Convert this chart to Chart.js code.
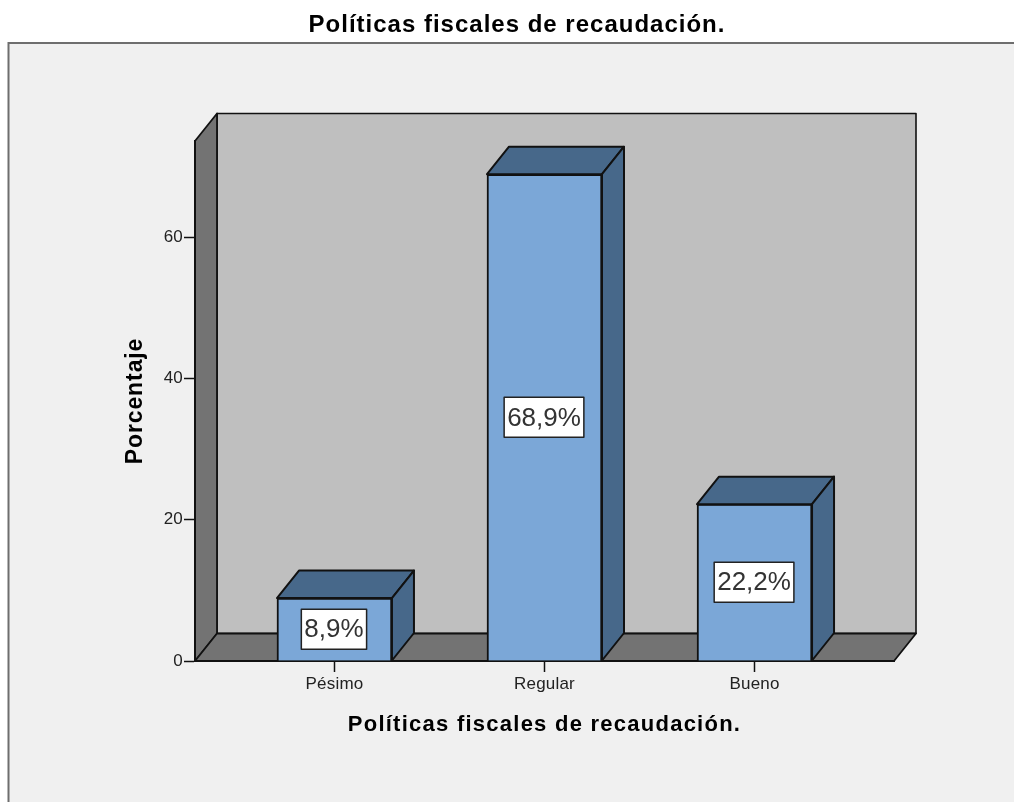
<!DOCTYPE html>
<html>
<head>
<meta charset="utf-8">
<style>html,body{margin:0;padding:0;background:#fff;overflow:hidden}canvas{display:block}</style>
<script src="https://cdn.jsdelivr.net/npm/chart.js@4/dist/chart.umd.min.js"></script>
</head>
<body>
<canvas id="c" width="1014" height="802"></canvas>
<script>
const chartTitle = 'Políticas fiscales de recaudación.';
const xAxisTitle = 'Políticas fiscales de recaudación.';
const yAxisTitle = 'Porcentaje';
const categories = ['Pésimo', 'Regular', 'Bueno'];
const positions = [0, 1, 2];
const percentages = [8.9, 68.9, 22.2];
const yMax = 73.6;

const depthX = 22, depthY = 27.5;
const sans = '"Liberation Sans", Arial, sans-serif';

function poly(ctx, pts, fill, lw) {
  ctx.beginPath();
  pts.forEach((p, i) => i ? ctx.lineTo(p[0], p[1]) : ctx.moveTo(p[0], p[1]));
  ctx.closePath();
  ctx.fillStyle = fill; ctx.fill();
  ctx.lineWidth = lw || 2; ctx.strokeStyle = '#111'; ctx.lineJoin = 'round'; ctx.stroke();
}

// The reference's text is stretched; reproduce it with canvas letter spacing.
function spaced(obj, method, px) {
  if (obj['_sp_' + method]) return;
  obj['_sp_' + method] = true;
  const orig = obj[method];
  obj[method] = function (...args) {
    const ctx = this.ctx;
    const prev = ctx.letterSpacing;
    ctx.letterSpacing = px + 'px';
    orig.apply(this, args);
    ctx.letterSpacing = prev;
  };
}

const scene = {
  id: 'scene',
  afterLayout(chart) {
    chart.titleBlock.left += 70; chart.titleBlock.right += 70;
    spaced(chart.titleBlock, 'draw', 1.0);
    spaced(chart.scales.x, 'drawTitle', 1.25);
    spaced(chart.scales.y, 'drawTitle', 0.9);
    spaced(chart.scales.x, 'drawLabels', 0.2);
    spaced(chart.scales.y, 'drawLabels', 0.2);
  },
  beforeDraw(chart) {
    const ctx = chart.ctx, a = chart.chartArea;
    ctx.save();
    ctx.fillStyle = '#fff'; ctx.fillRect(0, 0, chart.width, chart.height);
    ctx.fillStyle = '#f0f0f0'; ctx.fillRect(8, 43, chart.width, chart.height);
    ctx.strokeStyle = '#6e6e6e'; ctx.lineWidth = 2;
    ctx.beginPath(); ctx.moveTo(8.5, chart.height); ctx.lineTo(8.5, 43); ctx.lineTo(chart.width, 43); ctx.stroke();
    const L = a.left, R = a.right, T = a.top, B = a.bottom;
    const dx = depthX, dy = depthY;
    poly(ctx, [[L+dx,T-dy],[R+dx,T-dy],[R+dx,B-dy],[L+dx,B-dy]], '#bfbfbf', 1.6);
    poly(ctx, [[L,T],[L+dx,T-dy],[L+dx,B-dy],[L,B]], '#737373', 1.8);
    poly(ctx, [[L,B],[L+dx,B-dy],[R+dx,B-dy],[R,B]], '#737373', 1.8);
    ctx.restore();
  },
  afterDatasetsDraw(chart) {
    const ctx = chart.ctx, dx = depthX, dy = depthY;
    const meta = chart.getDatasetMeta(0);
    ctx.save();
    meta.data.forEach((bar, i) => {
      const l = bar.x - bar.width / 2, r = bar.x + bar.width / 2, t = bar.y, b = bar.base;
      poly(ctx, [[l,t],[l+dx,t-dy],[r+dx,t-dy],[r,t]], '#47688a', 2);
      poly(ctx, [[r,t],[r+dx,t-dy],[r+dx,b-dy],[r,b]], '#47688a', 2);
      const text = percentages[i].toFixed(1).replace('.', ',') + '%';
      ctx.font = '26px ' + sans;
      const w = ctx.measureText(text).width + 6, h = 40;
      const cx = bar.x - 0.5, cy = (t + b) / 2;
      ctx.fillStyle = '#fff';
      ctx.fillRect(cx - w/2, cy - h/2, w, h);
      ctx.strokeStyle = '#222'; ctx.lineWidth = 1.5;
      ctx.strokeRect(cx - w/2, cy - h/2, w, h);
      ctx.fillStyle = '#333'; ctx.textAlign = 'center'; ctx.textBaseline = 'middle';
      ctx.fillText(text, cx, cy + 1);
    });
    ctx.restore();
  }
};

new Chart(document.getElementById('c'), {
  type: 'bar',
  data: {
    datasets: [{
      data: positions.map((x, i) => ({ x, y: percentages[i] })),
      backgroundColor: '#7ba7d7',
      borderColor: '#111',
      borderWidth: 2,
      barThickness: 115
    }]
  },
  options: {
    responsive: false,
    animation: false,
    devicePixelRatio: 1,
    layout: { padding: { left: 0, right: 120, top: 0, bottom: 0 } },
    plugins: {
      legend: { display: false },
      tooltip: { enabled: false },
      title: {
        display: true, text: chartTitle, color: '#000',
        font: { family: sans, size: 24, weight: 'bold', lineHeight: 1.2 },
        padding: { top: 11, bottom: 101.2 }
      }
    },
    scales: {
      x: {
        type: 'linear', min: -0.664, max: 2.664, offset: false,
        afterFit(s) { s.height = 141; },
        afterBuildTicks(s) { s.ticks = positions.map(value => ({ value })); },
        border: { color: '#111', width: 2 },
        grid: { offset: false, drawOnChartArea: false, tickLength: 11, tickColor: '#111', tickWidth: 1.5 },
        ticks: {
          color: '#222', font: { family: sans, size: 17 }, padding: 2, maxRotation: 0,
          callback: v => categories[v]
        },
        title: {
          display: true, text: xAxisTitle, color: '#000',
          font: { family: sans, size: 22, weight: 'bold', lineHeight: 1.2 },
          padding: { top: 0, bottom: 64 }
        }
      },
      y: {
        min: 0, max: yMax,
        afterFit(s) { s.width = 195; },
        border: { color: '#111', width: 2 },
        grid: { drawOnChartArea: false, tickLength: 11, tickColor: '#111', tickWidth: 1.5 },
        ticks: {
          stepSize: 20, includeBounds: false, color: '#222',
          font: { family: sans, size: 17 }, padding: 1
        },
        title: {
          display: true, text: yAxisTitle, color: '#000',
          font: { family: sans, size: 23, weight: 'bold', lineHeight: 1.2 },
          padding: { top: 122, bottom: 0 }
        }
      }
    }
  },
  plugins: [scene]
});
</script>
</body>
</html>
